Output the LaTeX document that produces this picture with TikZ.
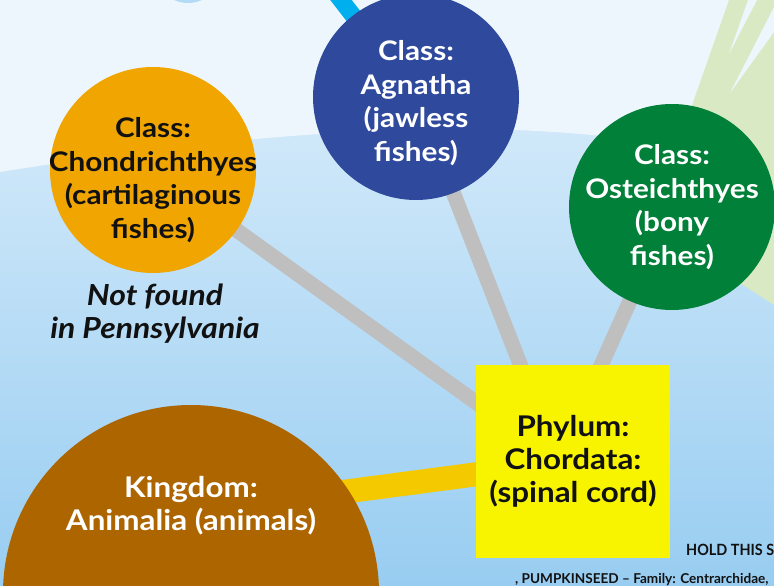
\documentclass[tikz,border=0pt]{standalone}
\usepackage{fontspec}
\setmainfont{Lato}
\newfontfamily\lblfont{Lato}[FakeStretch=1.1]
\usetikzlibrary{calc}
\pgfdeclarelayer{bglayer}
\pgfdeclarelayer{edgelayer}
\pgfsetlayers{bglayer,edgelayer,main}
\definecolor{skytop}{HTML}{EEF6FD}
\definecolor{skymid}{HTML}{E0F0FC}
\definecolor{skybot}{HTML}{98CDF1}
\definecolor{grass}{HTML}{D8E9C3}
\definecolor{orangec}{HTML}{F0A500}
\definecolor{bluec}{HTML}{2F4A9C}
\definecolor{greenc}{HTML}{008038}
\definecolor{yellowbox}{HTML}{F8F400}
\definecolor{brownc}{HTML}{AD6500}
\definecolor{grayline}{HTML}{BFBFBF}
\definecolor{goldline}{HTML}{F5C900}
\definecolor{cyanline}{HTML}{00B0EE}
\definecolor{topblob}{HTML}{B3DBF5}
\definecolor{ink}{HTML}{111111}
\begin{document}
\begin{tikzpicture}[x=1pt,y=-1pt,
  bubble/.style={circle, inner sep=0pt, minimum size=#1},
  lbl/.style={align=center, inner sep=0pt, font=\lblfont\bfseries\fontsize{27}{33.7}\selectfont},
  biglbl/.style={align=center, inner sep=0pt, font=\lblfont\bfseries\fontsize{28.5}{33.2}\selectfont},
  conn/.style={line width=15pt, draw=grayline},
  goldconn/.style={line width=24pt, draw=goldline},
  cyanconn/.style={line width=17pt, draw=cyanline},
  note/.style={align=center, inner sep=0pt, text=ink, font=\lblfont\bfseries\itshape\fontsize{29}{33}\selectfont},
  small/.style={anchor=base west, inner sep=0pt, text=ink, font=\bfseries\fontsize{13.6}{16}\selectfont}]
\useasboundingbox (0,0) rectangle (774,586);
\clip (0,0) rectangle (774,586);
% ---------- background ----------
\begin{pgfonlayer}{bglayer}
\shade[top color=skymid, bottom color=skybot] (0,0) rectangle (774,586);
\fill[skytop] (0,0) -- (0,172) .. controls (200,140) and (430,115) .. (620,138) -- (774,160) -- (774,0) -- cycle;
\fill[topblob] (188,-60) ellipse [x radius=46, y radius=63];
\fill[grass] (650,225) -- (729,0) -- (774,0) -- (774,305) -- cycle;
\fill[skytop] (748,0) -- (757,0) -- (729,54) -- cycle;
\fill[skytop] (774,7) -- (774,32) -- (730,93) -- cycle;
\end{pgfonlayer}
% ---------- nodes ----------
\node[bubble=206pt, fill=orangec] (cho) at (153,170) {};
\node[lbl, text=ink] (chot) at ([yshift=-10pt]cho.center) {Class:\\Chondrichthyes\\(cartilaginous\\fishes)};
\node[bubble=206pt, fill=bluec] (agn) at (416,97) {};
\node[lbl, text=white] (agnt) at ([yshift=-6pt]agn.center) {Class:\\Agnatha\\(jawless\\fishes)};
\node[bubble=206pt, fill=greenc] (ost) at (672,207) {};
\node[lbl, text=white] (ostt) at (ost.center) {Class:\\Osteichthyes\\(bony\\fishes)};
\node[fill=yellowbox, minimum width=194pt, minimum height=193pt, inner sep=0pt] (phy) at (573,461.5) {};
\node[biglbl, text=ink] (phyt) at (phy.center) {Phylum:\\Chordata:\\(spinal cord)};
\node[bubble=376pt, fill=brownc] (kin) at (191,593) {};
\node[biglbl, text=white] (kint) at (191,506) {Kingdom:\\Animalia (animals)};
\node[note] (nf) at (155,314) {Not found\\in Pennsylvania};
\node[small, font=\bfseries\fontsize{15.5}{16}\selectfont] (hold) at (686,555) {\scalebox{0.93}[1]{HOLD THIS S}};
\node[small] (pump) at (515,583) {, PUMPKINSEED – Family: Centrarchidae,};
% ---------- connectors ----------
\coordinate (hub) at ([xshift=-15pt]phy.center);
\coordinate (kinhub) at ([yshift=81pt]kin.center);
\coordinate (cyanend) at (300,-53);
\begin{pgfonlayer}{edgelayer}
\draw[conn] (cho.center) -- (hub);
\draw[conn] (agn.center) -- (hub);
\draw[conn] (ost.center) -- (hub);
\draw[goldconn] (kinhub) -- (phy.center);
\draw[cyanconn] (agn.center) -- (cyanend);
\end{pgfonlayer}
\end{tikzpicture}
\end{document}
